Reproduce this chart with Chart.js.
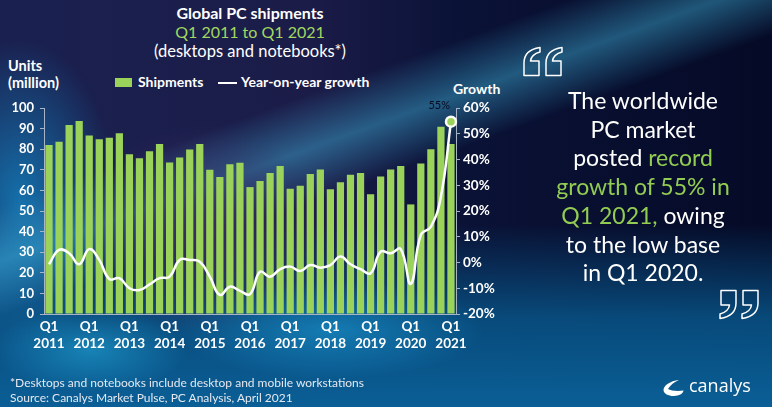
<!DOCTYPE html>
<html>
<head>
<meta charset="utf-8">
<script src="https://cdn.jsdelivr.net/npm/chart.js@4/dist/chart.umd.min.js"></script>
<style>
html,body{margin:0;padding:0;}
body{width:772px;height:407px;overflow:hidden;position:relative;font-family:Lato,"Open Sans",sans-serif;
background:
 radial-gradient(ellipse 140px 60px at 90px 350px, rgba(40,190,240,0.45), rgba(40,190,240,0) 70%),
 radial-gradient(ellipse 220px 70px at 330px 330px, rgba(30,170,230,0.5), rgba(30,170,230,0) 70%),
 radial-gradient(ellipse 180px 150px at 200px 230px, rgba(60,45,100,0.9), rgba(60,45,100,0) 70%),
 linear-gradient(160deg, rgba(0,0,0,0) 30%, rgba(70,200,240,0.4) 38%, rgba(0,0,0,0) 46%),
 radial-gradient(ellipse 120px 200px at 20px 200px, rgba(20,120,180,0.9), rgba(20,120,180,0) 80%),
 linear-gradient(180deg, rgba(4,10,38,0) 0%, rgba(4,10,38,0) 55%, rgba(8,80,130,0.9) 78%, rgba(10,95,150,1) 100%),
 linear-gradient(90deg, #1a2150 0%, #1b1c48 40%, #0a1236 60%, #050a26 100%);
}
.t{position:absolute;white-space:nowrap;color:#fff;}
#chartbox{position:absolute;left:0;top:0;width:772px;height:407px;}
</style>
</head>
<body>
<div class="t" style="left:250px;top:3px;transform:translateX(-50%);font-weight:bold;font-size:16px;">Global PC shipments</div>
<div class="t" style="left:250px;top:22px;transform:translateX(-50%);font-size:16px;color:#a2d860;">Q1 2011 to Q1 2021</div>
<div class="t" style="left:250px;top:41px;transform:translateX(-50%);font-size:16.5px;">(desktops and notebooks*)</div>
<div class="t" style="left:8px;top:57px;font-weight:bold;font-size:14.5px;line-height:17px;">Units<br>(million)</div>
<div class="t" style="left:453px;top:80px;font-weight:bold;font-size:14px;">Growth</div>
<div style="position:absolute;left:115px;top:78px;width:17px;height:9px;background:#9bd35a;"></div>
<div class="t" style="left:138px;top:73px;font-weight:bold;font-size:14px;">Shipments</div>
<div style="position:absolute;left:218px;top:82px;width:19px;height:2px;background:#fff;"></div>
<div class="t" style="left:241px;top:73px;font-weight:bold;font-size:14px;">Year-on-year growth</div>

<div id="chartbox"><canvas id="c" width="772" height="407"></canvas></div>

<svg style="position:absolute;left:522px;top:46px;" width="44" height="32" viewBox="0 0 44 32">
<g fill="none" stroke="#fff" stroke-width="1.5" stroke-linejoin="round">
<path d="M18,1.5 L18,6 C12.5,7.5 9,11 8.5,15 L17,15 L17,29.5 L2,29.5 L2,17 C2,8.5 8,3 18,1.5 Z"/>
<path d="M40,1.5 L40,6 C34.5,7.5 31,11 30.5,15 L39,15 L39,29.5 L24,29.5 L24,17 C24,8.5 30,3 40,1.5 Z"/>
</g>
</svg>
<svg style="position:absolute;left:716px;top:288px;" width="44" height="32" viewBox="0 0 44 32">
<g fill="none" stroke="#fff" stroke-width="1.5" stroke-linejoin="round" transform="rotate(180 22 16)">
<path d="M18,1.5 L18,6 C12.5,7.5 9,11 8.5,15 L17,15 L17,29.5 L2,29.5 L2,17 C2,8.5 8,3 18,1.5 Z"/>
<path d="M40,1.5 L40,6 C34.5,7.5 31,11 30.5,15 L39,15 L39,29.5 L24,29.5 L24,17 C24,8.5 30,3 40,1.5 Z"/>
</g>
</svg>
<div class="t" style="left:643px;top:86px;transform:translateX(-50%);text-align:center;font-size:23px;line-height:28.7px;">The worldwide<br>PC market<br>posted <span style="color:#92cc52">record</span><br><span style="color:#92cc52">growth of 55% in</span><br><span style="color:#92cc52">Q1 2021,</span> owing<br>to the low base<br>in Q1 2020.</div>

<div class="t" style="left:10px;top:375px;font-size:12px;color:#e4e8f0;">*Desktops and notebooks include desktop and mobile workstations</div>
<div class="t" style="left:10px;top:390px;font-size:12px;color:#e4e8f0;">Source: Canalys Market Pulse, PC Analysis, April 2021</div>
<svg style="position:absolute;left:662px;top:379px;" width="24" height="18" viewBox="0 0 24 18">
<path d="M17 1 C8 2 1.5 6.5 1.5 11 C1.5 15 7 17.2 12 17 C17 16.8 21 15 21.5 11.5 C16 12.5 9 12 6 10 C8.5 6 12 3 17 1 Z" fill="#fff"/>
</svg>
<div class="t" style="left:689px;top:373px;font-size:18px;color:#fff;font-family:'Open Sans',sans-serif;">canalys</div>

<script>
const quarters = [];
for (let y = 2011; y <= 2021; y++) { for (let q = 1; q <= 4; q++) { if (y === 2021 && q > 1) break; quarters.push('Q' + q + ' ' + y); } }
const shipments = [82, 83.6, 91.7, 93.7, 86.7, 84.8, 85.6, 87.7, 77.5, 75.6, 79, 82.5, 73.6, 76, 79.8, 82.5,
  70, 66.5, 72.7, 73.4, 61.6, 64.6, 68.4, 71.8, 60.8, 62.3, 68, 70.2, 60.5, 63.9, 67.6, 68.4,
  58.1, 66.8, 70.2, 71.8, 53.2, 73, 80, 90.9, 82.5];
const growth = [-0.7, 4.9, 3.6, -0.7, 5.2, 1, -6.4, -6.1, -10, -10.7, -8.5, -6.1, -5.5, 1, 1, 0.3,
  -5.5, -12.6, -9.4, -11, -12.3, -3.6, -5.5, -2.6, -1.6, -3.3, -1, -2, -1, 2.3, -0.7, -2.6,
  -4.2, 4.2, 3.6, 5.2, -8.3, 10.7, 13.9, 25.6, 54.7];
const leftTicks = [0, 10, 20, 30, 40, 50, 60, 70, 80, 90, 100];
const rightTicks = [-20, -10, 0, 10, 20, 30, 40, 50, 60];
const lastLabel = '55%';

const last = growth.length - 1;
const labelPlugin = {
  id: 'lastLabel',
  afterDatasetsDraw(chart) {
    const meta = chart.getDatasetMeta(1);
    const p = meta.data[last];
    if (!p) return;
    const ctx = chart.ctx;
    ctx.save();
    ctx.font = '11px Lato, sans-serif';
    ctx.fillStyle = '#070b22';
    ctx.textAlign = 'right';
    ctx.textBaseline = 'middle';
    ctx.fillText(lastLabel, p.x - 1, p.y - 16);
    ctx.restore();
  }
};

new Chart(document.getElementById('c'), {
  data: {
    labels: quarters,
    datasets: [
      { type: 'bar', label: 'Shipments', data: shipments, yAxisID: 'y', backgroundColor: '#9bd35a',
        barPercentage: 0.72, categoryPercentage: 1, order: 2 },
      { type: 'line', label: 'Year-on-year growth', data: growth, yAxisID: 'y1', borderColor: '#ffffff',
        borderWidth: 2.5, tension: 0.45, fill: false, order: 1,
        pointRadius: c => c.dataIndex === last ? 5 : 0,
        pointBackgroundColor: '#9bd35a', pointBorderColor: '#ffffff', pointBorderWidth: 2.5 }
    ]
  },
  options: {
    responsive: false,
    animation: false,
    events: [],
    layout: { padding: { left: 0, right: 272, top: 108, bottom: 0 } },
    plugins: { legend: { display: false }, tooltip: { enabled: false } },
    scales: {
      x: {
        offset: true,
        grid: { display: false, drawTicks: false },
        border: { display: true, color: '#a9b3c6', width: 1 },
        ticks: {
          autoSkip: false, maxRotation: 0, minRotation: 0, padding: 5,
          color: '#ffffff', font: { family: 'Lato, sans-serif', size: 13.5, weight: 'bold' }, lineHeight: 1.25,
          callback: (v, i) => i % 4 === 0 ? quarters[i].split(' ') : ''
        },
        afterFit: s => { s.height = 93; }
      },
      y: {
        position: 'left', min: 0, max: 100,
        afterBuildTicks: s => { s.ticks = leftTicks.map(v => ({ value: v })); },
        grid: { drawOnChartArea: false, drawTicks: true, tickLength: 4, color: '#a9b3c6' },
        border: { display: true, color: '#a9b3c6' },
        ticks: { color: '#ffffff', padding: 6, font: { family: 'Lato, sans-serif', size: 13, weight: 'bold' } },
        afterFit: s => { s.width = 44; }
      },
      y1: {
        position: 'right', min: -20, max: 60,
        afterBuildTicks: s => { s.ticks = rightTicks.map(v => ({ value: v })); },
        grid: { drawOnChartArea: false, drawTicks: true, tickLength: 4, color: '#a9b3c6' },
        border: { display: true, color: '#a9b3c6' },
        ticks: { color: '#ffffff', padding: 3, font: { family: 'Lato, sans-serif', size: 13.5, weight: 'bold' },
          callback: v => v + '%' },
        afterFit: s => { s.width = 44; }
      }
    }
  },
  plugins: [labelPlugin]
});
</script>
</body>
</html>
